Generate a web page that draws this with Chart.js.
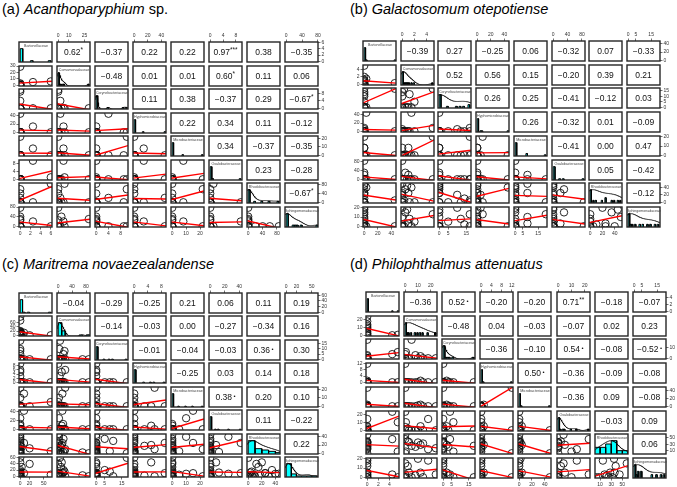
<!DOCTYPE html>
<html>
<head>
<meta charset="utf-8">
<script src="https://cdn.jsdelivr.net/npm/chart.js@4.4.0/dist/chart.umd.min.js"></script>
<style>
  body { margin: 0; width: 677px; height: 487px; position: relative; overflow: hidden; background: #fff;
         font-family: "Liberation Sans", Arial, sans-serif; }
  canvas { position: absolute; }
  .title { position: absolute; font-size: 14.5px; line-height: 1; white-space: nowrap; color: #000; }
  .num { position: absolute; display: flex; align-items: center; justify-content: center;
         font-size: 8.5px; color: #111; white-space: nowrap; }
  .num .st { font-size: 6.5px; position: relative; top: -2.5px; }
  .num .dt { font-size: 6px; position: relative; top: -1.5px; margin-left: 1.5px; }
  .lab { position: absolute; font-size: 8px; line-height: 1; color: #444; white-space: nowrap;
         text-align: center; transform: scale(0.45); transform-origin: top center; }
</style>
</head>
<body>
<div class="title" style="left:2px;top:2px">(a) <i>Acanthoparyphium</i> sp.</div>
<div class="title" style="left:350px;top:2px">(b) <i>Galactosomum otepotiense</i></div>
<div class="title" style="left:2px;top:257px">(c) <i>Maritrema novaezealandense</i></div>
<div class="title" style="left:350px;top:257px">(d) <i>Philophthalmus attenuatus</i></div>
<script>
const families = ['Bartonellaceae', 'Comamonadaceae', 'Corynebacteriaceae', 'Hyphomicrobiaceae',
                  'Microbacteriaceae', 'Oxalobacteraceae', 'Rhodobacteraceae', 'Sphingomonadaceae'];

// one row per sample, columns in the order of `families`
const samplesA = [
  [2.5, 5, 0, 14, 8, 9.5, 0, 20],
  [6, 6, 0, 0, 0, 1, 85, 0],
  [0, 0, 0, 0, 0, 0, 40, 0],
  [0, 0, 10, 0, 22, 0, 60, 0],
  [0, 2, 4, 45, 0, 0, 20, 0],
  [0, 0, 9, 0, 0, 0, 0, 0],
  [0, 29, 0, 0, 0, 0, 0, 30],
  [0, 0, 0, 0, 0, 0, 0, 77],
  [0, 3, 0, 0, 0, 0, 0, 40],
  [0, 0, 0, 0, 0, 0, 0, 25],
  [0, 0, 0, 0, 0, 0, 0, 0],
  [0, 0, 0, 0, 0, 0, 0, 0]
];
const samplesB = [
  [45, 0.3, 17, 0, 0, 0, 5, 0],
  [0, 5, 17, 8, 20, 0, 0, 13],
  [3, 1.5, 0, 45, 0, 0, 40, 0],
  [0, 1, 0, 0, 8, 20, 25, 3],
  [0, 0, 0, 0, 0, 85, 0, 0],
  [0, 0.5, 0, 0, 0, 30, 35, 15],
  [0, 2, 5, 0, 0, 0, 0, 5],
  [0, 0, 10, 5, 0, 0, 20, 20],
  [0, 0, 0, 0, 8, 0, 50, 10],
  [0, 1.2, 12, 0, 0, 0, 0, 8],
  [0, 0.8, 0, 0, 0, 0, 45, 18],
  [0, 0, 0, 0, 0, 0, 0, 0],
  [0, 0, 14, 0, 0, 0, 10, 2],
  [0, 0, 0, 0, 0, 0, 25, 0]
];
const samplesC = [
  [65, 0, 0, 0, 5, 0, 5, 5],
  [0, 88, 0, 0, 0, 0, 0, 0],
  [0, 70, 0, 0, 0, 0, 2, 3],
  [0, 5, 18, 0, 0, 0, 0, 60],
  [8, 12, 0, 0, 15, 42, 25, 10],
  [0, 3, 10, 0, 0, 0, 30, 0],
  [0, 0, 0, 9, 0, 0, 25, 10],
  [0, 15, 5, 0, 0, 0, 35, 20],
  [0, 10, 0, 5, 0, 8, 20, 45],
  [0, 20, 0, 6, 22, 0, 10, 0],
  [3, 8, 0, 0, 0, 0, 15, 30],
  [0, 2, 0, 0, 10, 25, 40, 8],
  [0, 18, 8, 0, 0, 0, 5, 15],
  [0, 6, 0, 0, 0, 0, 8, 5],
  [20, 0, 0, 0, 0, 0, 12, 40],
  [0, 4, 0, 3, 0, 0, 18, 2],
  [0, 0, 0, 0, 0, 0, 6, 0],
  [0, 14, 0, 0, 0, 12, 3, 12],
  [0, 9, 0, 0, 0, 0, 0, 0],
  [0, 1, 0, 0, 0, 0, 45, 8]
];
const samplesD = [
  [4.5, 0, 4, 0, 0, 23, 45, 3],
  [5.5, 0.5, 6, 0, 0, 10, 8, 0],
  [0, 0, 0, 12, 48, 0, 3, 0],
  [0, 24, 0, 0, 0, 0, 18, 3],
  [0, 12, 2, 1, 4, 5, 28, 5],
  [0, 10, 0, 0, 2, 0, 35, 20],
  [0, 5, 18, 0, 0, 0, 25, 0],
  [0, 2, 0, 0, 0, 2, 38, 12],
  [0, 14, 0, 0, 0, 0, 32, 0],
  [0, 0, 0, 0, 0, 4, 58, 15],
  [0, 8, 3, 0, 0, 0, 22, 2],
  [0, 18, 0, 0, 0, 14, 15, 18],
  [0, 3, 0, 0, 0, 0, 36, 5]
];

// correlation labels of the upper triangle, row by row
const corrA = [
  ['0.62*', '−0.37', '0.22', '0.22', '0.97***', '0.38', '−0.35'],
  ['−0.48', '0.01', '0.01', '0.60*', '0.11', '0.06'],
  ['0.11', '0.38', '−0.37', '0.29', '−0.67*'],
  ['0.22', '0.34', '0.11', '−0.12'],
  ['0.34', '−0.37', '−0.35'],
  ['0.23', '−0.28'],
  ['−0.67*']
];
const corrB = [
  ['−0.39', '0.27', '−0.25', '0.06', '−0.32', '0.07', '−0.33'],
  ['0.52', '0.56', '0.15', '−0.20', '0.39', '0.21'],
  ['0.26', '0.25', '−0.41', '−0.12', '0.03'],
  ['0.26', '−0.32', '0.01', '−0.09'],
  ['−0.41', '0.00', '0.47'],
  ['0.05', '−0.42'],
  ['−0.12']
];
const corrC = [
  ['−0.04', '−0.29', '−0.25', '0.21', '0.06', '0.11', '0.19'],
  ['−0.14', '−0.03', '0.00', '−0.27', '−0.34', '0.16'],
  ['−0.01', '−0.04', '−0.03', '0.36•', '0.30'],
  ['−0.25', '0.03', '0.14', '0.18'],
  ['0.38•', '0.20', '0.10'],
  ['0.11', '−0.22'],
  ['0.22']
];
const corrD = [
  ['−0.36', '0.52•', '−0.20', '−0.20', '0.71**', '−0.18', '−0.07'],
  ['−0.48', '0.04', '−0.03', '−0.07', '0.02', '0.23'],
  ['−0.36', '−0.10', '0.54•', '−0.08', '−0.52•'],
  ['0.50•', '−0.36', '−0.09', '−0.08'],
  ['−0.36', '0.09', '−0.08'],
  ['−0.03', '0.09'],
  ['0.06']
];

// tick labels: columns (top/bottom axes) and rows (left/right axes)
const colTicksA = [[0, 2, 4, 6], [0, 10, 25], [0, 4, 8], [0, 20, 40], [0, 10, 20], [0, 4, 8], [0, 40, 80], [0, 40, 80]];
const rowTicksA = [[0, 2, 4, 6], [0, 10, 20, 30], [0, 4, 8], [0, 20, 40], [0, 10, 20], [0, 4, 8], [0, 40, 80], [0, 40, 80]];
const colTicksB = [[0, 20, 40], [0, 2, 4], [0, 5, 15], [0, 20, 40], [0, 5, 15], [0, 40, 80], [0, 20, 40], [0, 5, 15]];
const rowTicksB = [[0, 20, 40], [0, 2, 4], [0, 5, 10, 15], [0, 20, 40], [0, 10, 20], [0, 40, 80], [0, 20, 40], [0, 10, 20]];
const colTicksC = [[0, 20, 50], [0, 40, 80], [0, 5, 15], [0, 4, 8], [0, 10, 20], [0, 20, 40], [0, 20, 40], [0, 20, 50]];
const rowTicksC = [[0, 20, 40, 60], [0, 20, 40, 60], [0, 5, 10, 15], [0, 2, 4, 6, 8], [0, 10, 20], [0, 20, 40], [0, 20, 40], [0, 20, 40, 60]];
const colTicksD = [[0, 2, 4], [0, 10, 20], [0, 5, 15], [0, 4, 8, 12], [0, 20, 40], [0, 10, 20], [10, 30, 50], [0, 5, 15]];
const rowTicksD = [[0, 2, 4], [0, 10, 20], [0, 10], [0, 4, 8, 12], [0, 20, 40], [0, 10, 20], [10, 30, 50], [0, 10, 20]];

// histogram bin widths on the diagonal
const binsA = [0.5, 1, 0.5, 2, 1, 0.5, 5, 5];
const binsB = [2, 0.2, 1, 2, 1, 5, 2, 1];
const binsC = [5, 10, 1, 0.5, 1, 2, 10, 10];
const binsD = [0.2, 1, 1, 0.5, 2, 1, 10, 1];

const panels = [
  { samples: samplesA, corr: corrA, colTicks: colTicksA, rowTicks: rowTicksA, bins: binsA, x0: 19, dx: 38, y0: 42, dy: 23.57 },
  { samples: samplesB, corr: corrB, colTicks: colTicksB, rowTicks: rowTicksB, bins: binsB, x0: 363, dx: 37.7, y0: 41, dy: 23.7 },
  { samples: samplesC, corr: corrC, colTicks: colTicksC, rowTicks: rowTicksC, bins: binsC, x0: 19, dx: 38, y0: 293, dy: 23.43 },
  { samples: samplesD, corr: corrD, colTicks: colTicksD, rowTicks: rowTicksD, bins: binsD, x0: 366, dx: 38.1, y0: 292, dy: 23.7 }
];

const BW = 33, BH = 20, PAD = 6, AXH = 9, AXW = 12;

const boxPlugin = {
  id: 'box',
  afterDraw(chart) {
    const a = chart.chartArea, c = chart.ctx;
    c.save();
    c.strokeStyle = '#262626';
    c.lineWidth = 1.4;
    c.strokeRect(a.left, a.top, a.right - a.left, a.bottom - a.top);
    c.restore();
  }
};

function quant(s, p) {
  const h = (s.length - 1) * p, lo = Math.floor(h), hi = Math.min(lo + 1, s.length - 1);
  return s[lo] + (h - lo) * (s[hi] - s[lo]);
}

// bandwidth rule "nrd"; zero when the IQR is zero, so no curve is drawn
function bwNrd(x) {
  const n = x.length, s = [...x].sort((a, b) => a - b);
  const m = x.reduce((a, b) => a + b, 0) / n;
  const sd = Math.sqrt(x.reduce((a, b) => a + (b - m) ** 2, 0) / (n - 1));
  const iqr = (quant(s, 0.75) - quant(s, 0.25)) / 1.34;
  return 1.06 * Math.min(sd, iqr) * Math.pow(n, -0.2);
}

function densityPoints(x, lim) {
  const bw = bwNrd(x);
  if (!(bw > 0)) return null;
  const f = t => x.reduce((a, v) => a + Math.exp(-0.5 * ((t - v) / bw) ** 2), 0);
  const lo = Math.min(...x) - 3 * bw, hi = Math.max(...x) + 3 * bw;
  let mx = 0;
  for (let i = 0; i <= 300; i++) mx = Math.max(mx, f(lo + (hi - lo) * i / 300));
  const pts = [];
  for (let i = 0; i <= 120; i++) {
    const t = lim[0] + (lim[1] - lim[0]) * i / 120;
    pts.push({ x: t, y: f(t) / mx });
  }
  return pts;
}

function histBars(x, bw) {
  const lo = Math.floor(Math.min(...x) / bw + 1e-9) * bw;
  const nb = Math.max(1, Math.ceil((Math.max(...x) - lo) / bw - 1e-9));
  const counts = new Array(nb).fill(0);
  x.forEach(v => {
    let k = Math.ceil((v - lo) / bw - 1e-9) - 1;
    counts[Math.min(nb - 1, Math.max(0, k))]++;
  });
  const mx = Math.max(...counts);
  return counts.map((c, k) => ({ a: lo + k * bw, b: lo + (k + 1) * bw, h: c / mx })).filter(r => r.h > 0);
}

function fitLine(xs, ys, lim) {
  const n = xs.length;
  const mx = xs.reduce((a, b) => a + b, 0) / n, my = ys.reduce((a, b) => a + b, 0) / n;
  let sxx = 0, sxy = 0;
  xs.forEach((x, k) => { sxx += (x - mx) ** 2; sxy += (x - mx) * (ys[k] - my); });
  if (sxx === 0) return null;
  const b = sxy / sxx, a = my - b * mx;
  return [{ x: lim[0], y: a + b * lim[0] }, { x: lim[1], y: a + b * lim[1] }];
}

function scaleCfg(axis, pos, lim, ticks, show) {
  return {
    type: 'linear', position: pos, min: lim[0], max: lim[1], display: show,
    afterBuildTicks: s => { s.ticks = ticks.filter(v => v >= lim[0] && v <= lim[1]).map(v => ({ value: v })); },
    afterFit: s => {
      if (!show) { s.width = 0; s.height = 0; return; }
      if (axis === 'x') s.height = AXH; else s.width = AXW;
    },
    ticks: { font: { size: 5, family: 'Liberation Sans' }, color: '#333', padding: 1,
             maxRotation: 0, minRotation: 0, autoSkip: false, callback: v => String(v) },
    grid: { display: true, drawOnChartArea: false, drawTicks: true, tickLength: 2.5, color: '#333', lineWidth: 0.7 },
    border: { display: false }
  };
}

function addDiv(cls, html, left, top, w, h) {
  const d = document.createElement('div');
  d.className = cls;
  d.innerHTML = html;
  d.style.left = left + 'px';
  d.style.top = top + 'px';
  d.style.width = w + 'px';
  if (h) d.style.height = h + 'px';
  document.body.appendChild(d);
}

function buildPanel(p) {
  const nv = families.length;
  const cols = families.map((_, j) => p.samples.map(r => r[j]));
  const lims = cols.map(c => {
    const lo = Math.min(...c), hi = Math.max(...c), d = (hi - lo) || 1;
    return [lo - 0.04 * d, hi + 0.04 * d];
  });
  const overlays = [];

  for (let i = 0; i < nv; i++) {
    for (let j = 0; j < nv; j++) {
      const bx = Math.round(p.x0 + j * p.dx), by = Math.round(p.y0 + i * p.dy);
      const top = i === 0 && j % 2 === 1, bottom = i === nv - 1 && j % 2 === 0;
      const left = j === 0 && i % 2 === 1, right = j === nv - 1 && i % 2 === 0;
      const lw = left ? AXW : 0, rw = right ? AXW : 0, th = top ? AXH : 0, bh = bottom ? AXH : 0;

      const cv = document.createElement('canvas');
      const W = BW + 2 * PAD + lw + rw, H = BH + 2 * PAD + th + bh;
      cv.width = W; cv.height = H;
      cv.style.width = W + 'px'; cv.style.height = H + 'px';
      cv.style.left = (bx - PAD - lw) + 'px';
      cv.style.top = (by - PAD - th) + 'px';
      document.body.appendChild(cv);

      const datasets = [];
      let ylim = lims[i];
      if (i === j) {
        ylim = [0, 1.5];
        const dens = densityPoints(cols[i], lims[i]);
        if (dens) datasets.push({ type: 'line', data: dens, borderColor: '#000', borderWidth: 0.8,
                                  pointRadius: 0, fill: false, tension: 0, clip: 0 });
        histBars(cols[i], p.bins[i]).forEach(r => {
          datasets.push({ type: 'line', data: [{ x: r.a, y: 0 }, { x: r.a, y: r.h }, { x: r.b, y: r.h }, { x: r.b, y: 0 }],
                          borderColor: '#000', borderWidth: 1, backgroundColor: '#00ffff',
                          fill: 'origin', pointRadius: 0, tension: 0, clip: 0 });
        });
        overlays.push(['lab', families[i], bx, by + 2, BW]);
      } else if (i > j) {
        const line = fitLine(cols[j], cols[i], lims[j]);
        if (line) datasets.push({ type: 'line', data: line, borderColor: '#ff0000', borderWidth: 1.4,
                                  pointRadius: 0, fill: false, clip: 0 });
        datasets.push({ type: 'scatter', data: p.samples.map(r => ({ x: r[j], y: r[i] })),
                        pointStyle: 'circle', pointRadius: 3.7, borderColor: '#111', borderWidth: 0.9,
                        backgroundColor: 'rgba(0,0,0,0)', clip: 0 });
      } else {
        const m = p.corr[i][j - i - 1].match(/^(\S+?)(\*+|•)?$/);
        let html = m[1];
        if (m[2]) html += m[2] === '•' ? '<span class="dt">•</span>' : '<span class="st">' + m[2] + '</span>';
        overlays.push(['num', html, bx, by, BW, BH]);
      }

      new Chart(cv, {
        type: 'scatter',
        data: { datasets },
        options: {
          responsive: false, animation: false, events: [],
          layout: { padding: PAD, autoPadding: false },
          plugins: { legend: { display: false }, tooltip: { enabled: false } },
          scales: {
            x: scaleCfg('x', bottom ? 'bottom' : 'top', lims[j], p.colTicks[j], top || bottom),
            y: scaleCfg('y', right ? 'right' : 'left', ylim, p.rowTicks[i], left || right)
          }
        },
        plugins: [boxPlugin]
      });
    }
  }
  overlays.forEach(o => {
    if (o[0] === 'lab') {
      // label is drawn at 8px and scaled down, centred over the cell
      addDiv('lab', o[1], o[2] + o[4] / 2 - 40, o[3], 80);
    } else {
      addDiv('num', o[1], o[2], o[3], o[4], o[5]);
    }
  });
}

panels.forEach(buildPanel);
</script>
</body>
</html>
